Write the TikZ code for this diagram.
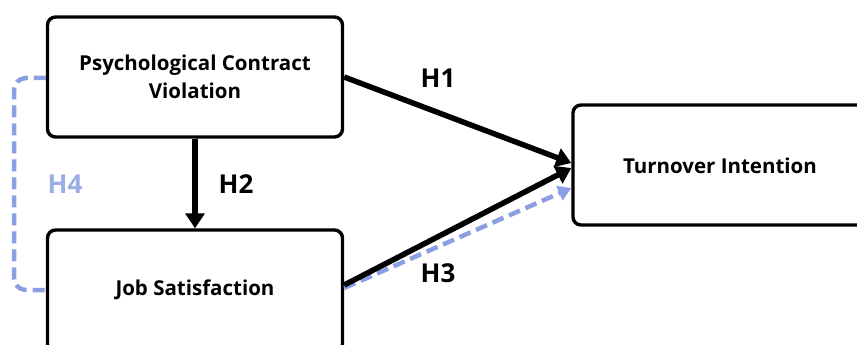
\documentclass[tikz,border=0pt]{standalone}
\usepackage{fontspec}
\setmainfont{Open Sans}
\usetikzlibrary{arrows.meta}
\definecolor{dashblue}{HTML}{8C9FE2}
\definecolor{labelblue}{HTML}{9AADE6}
\tikzset{
  boxfont/.style={font=\bfseries\fontsize{20.5}{28}\selectfont},
  box/.style={draw=black, line width=3.4pt, rounded corners=8pt, fill=white,
    align=center, boxfont, inner sep=0pt},
  mainarrow/.style={line width=5.5pt, -{Triangle[length=15pt,width=19pt]}},
  medarrow/.style={draw=dashblue, line width=4.5pt, dash pattern=on 12pt off 6pt,
    -{Triangle[length=13pt,width=15pt]}},
  hlabel/.style={font=\bfseries\fontsize{26}{26}\selectfont, inner sep=0pt}
}
\begin{document}
\begin{tikzpicture}[x=1pt,y=-1pt]
  \clip (0,0) rectangle (857,345);
  \fill[white] (0,0) rectangle (857,345);
  % constructs
  \node[box, minimum width=295pt, minimum height=120pt] (pcv) at (195,77)
    {Psychological Contract\\Violation};
  \node[box, minimum width=295pt, minimum height=122pt] (js) at (195,291) {};
  \node[boxfont] (jstext) at (195,290) {Job Satisfaction};
  \node[box, minimum width=300pt, minimum height=120pt] (ti) at (723,165) {};
  \node[boxfont] (titext) at (720,166) {Turnover Intention};
  % mediation path (H4)
  \draw[draw=dashblue, line width=4.5pt, dash pattern=on 12pt off 6pt, rounded corners=12pt]
    (pcv.west |- 0,78) -- (14,78) -- (14,290) -- (js.west |- 0,290);
  % direct paths
  \draw[medarrow] ([yshift=3pt]js.east) -- ([yshift=-23pt]ti.west);
  \draw[mainarrow] ([yshift=6pt]js.east) -- ([yshift=-3pt]ti.west);
  \draw[mainarrow] (pcv.east) -- ([yshift=2pt]ti.west);
  \draw[mainarrow] (pcv.south) -- (js.north);
  % hypothesis labels
  \node[hlabel] (h1) at (438,78) {H1};
  \node[hlabel] (h2) at (236,184) {H2};
  \node[hlabel] (h3) at (438,273) {H3};
  \node[hlabel, text=labelblue] (h4) at (65,184) {H4};
\end{tikzpicture}
\end{document}
